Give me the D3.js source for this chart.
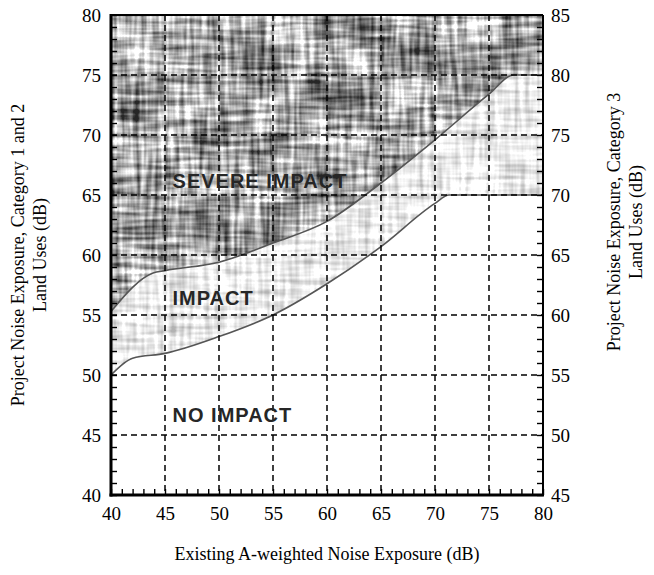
<!DOCTYPE html>
<html>
<head>
<meta charset="utf-8">
<script src="https://cdn.jsdelivr.net/npm/d3@7"></script>
<style>
body{margin:0;background:#fff}
text{font-family:"Liberation Serif","Times New Roman",serif}
</style>
</head>
<body>
<svg width="654" height="575"></svg>
<script>
// axis ticks
var xTicks = [40,45,50,55,60,65,70,75,80];
var yLeftTicks = [40,45,50,55,60,65,70,75,80];
var yRightTicks = [45,50,55,60,65,70,75,80,85];
var gridVals = [45,50,55,60,65,70,75];

// boundary curves (existing dB -> project dB, category 1 and 2)
var severeX = [40,43.9,45,50,55,60,65,70,75,77.3,80];
var severeY = [55.3,58.5,58.7,59.4,61,62.8,66,69.6,73.4,75,75];
var impactX = [40,42,45,50,55,60,65,70,71.3,80];
var impactY = [50,51.4,51.8,53.2,55,57.6,60.7,64.3,65,65];

// zone labels, anchored in data units
var zoneNames = ["SEVERE IMPACT","IMPACT","NO IMPACT"];
var zoneAtX = [45.7,45.7,45.7];
var zoneAtY = [65.6,55.8,46.1];

var svg = d3.select("svg");
var pl = 111, pr = 543, pt = 15, pb = 495;

var x = d3.scaleLinear().domain([40,80]).range([pl,pr]);
var y = d3.scaleLinear().domain([40,80]).range([pb,pt]);
var yR = d3.scaleLinear().domain([45,85]).range([pb,pt]);

var severe = severeX.map(function(d,i){ return [d, severeY[i]]; });
var impact = impactX.map(function(d,i){ return [d, impactY[i]]; });

var defs = svg.append("defs");

// scanned plaid texture
function noiseFilter(id, slope, intercept, blob){
  var f = defs.append("filter").attr("id", id)
    .attr("x",0).attr("y",0).attr("width",1).attr("height",1)
    .attr("color-interpolation-filters","sRGB");
  var gray = "1 0 0 0 0  1 0 0 0 0  1 0 0 0 0  0 0 0 0 1";
  f.append("feTurbulence").attr("type","fractalNoise").attr("baseFrequency","0.2 0.02")
    .attr("numOctaves",2).attr("seed",3).attr("result","v0");
  f.append("feColorMatrix").attr("in","v0").attr("type","matrix").attr("values",gray).attr("result","v");
  f.append("feTurbulence").attr("type","fractalNoise").attr("baseFrequency","0.02 0.2")
    .attr("numOctaves",2).attr("seed",7).attr("result","h0");
  f.append("feColorMatrix").attr("in","h0").attr("type","matrix").attr("values",gray).attr("result","h");
  f.append("feTurbulence").attr("type","fractalNoise").attr("baseFrequency","0.025")
    .attr("numOctaves",1).attr("seed",11).attr("result","b0");
  f.append("feColorMatrix").attr("in","b0").attr("type","matrix").attr("values",gray).attr("result","b");
  f.append("feComposite").attr("in","v").attr("in2","h").attr("operator","arithmetic")
    .attr("k1",0).attr("k2",1).attr("k3",1).attr("k4",-0.5).attr("result","vh");
  f.append("feComposite").attr("in","vh").attr("in2","b").attr("operator","arithmetic")
    .attr("k1",0).attr("k2",1).attr("k3",blob).attr("k4",-blob/2).attr("result","all");
  var ct = f.append("feComponentTransfer").attr("in","all");
  ["feFuncR","feFuncG","feFuncB"].forEach(function(c){
    ct.append(c).attr("type","linear").attr("slope",slope).attr("intercept",intercept);
  });
}
noiseFilter("plaid", 1.0, 0.15, 0.9);
noiseFilter("light", 0.45, 0.7, 0.3);

var areaTop = d3.area().curve(d3.curveMonotoneX)
  .x(function(d){ return x(d[0]); }).y0(y(80)).y1(function(d){ return y(d[1]); });
var areaBot = d3.area().curve(d3.curveMonotoneX)
  .x(function(d){ return x(d[0]); }).y0(y(40)).y1(function(d){ return y(d[1]); });
var line = d3.line().curve(d3.curveMonotoneX)
  .x(function(d){ return x(d[0]); }).y(function(d){ return y(d[1]); });

defs.append("clipPath").attr("id","clipSevere").append("path").attr("d", areaTop(severe));
defs.append("clipPath").attr("id","clipImpact").append("path").attr("d", areaBot(severe));

// impact zone (light)
svg.append("rect").attr("x",pl).attr("y",pt).attr("width",pr-pl).attr("height",pb-pt)
  .attr("filter","url(#light)").attr("clip-path","url(#clipImpact)");
// severe zone (dark plaid)
svg.append("rect").attr("x",pl).attr("y",pt).attr("width",pr-pl).attr("height",pb-pt)
  .attr("filter","url(#plaid)").attr("clip-path","url(#clipSevere)");
// no impact zone
svg.append("path").attr("d", areaBot(impact)).attr("fill","#fff");

// boundary lines
svg.append("path").attr("d", line(severe)).attr("fill","none").attr("stroke","#555").attr("stroke-width",1.6);
svg.append("path").attr("d", line(impact)).attr("fill","none").attr("stroke","#555").attr("stroke-width",1.6);

// dashed grid
var grid = svg.append("g").attr("stroke","#000").attr("stroke-width",1.5).attr("stroke-dasharray","6,4");
grid.selectAll(".gx").data(gridVals).enter().append("line")
  .attr("x1",function(d){ return x(d); }).attr("x2",function(d){ return x(d); })
  .attr("y1",pt).attr("y2",pb);
grid.selectAll(".gy").data(gridVals).enter().append("line")
  .attr("y1",function(d){ return y(d); }).attr("y2",function(d){ return y(d); })
  .attr("x1",pl).attr("x2",pr);

// zone labels
svg.selectAll(".zone").data(zoneNames).enter().append("text")
  .attr("x",function(d,i){ return x(zoneAtX[i]); })
  .attr("y",function(d,i){ return y(zoneAtY[i]); })
  .style("font-family","'Liberation Sans',Arial,sans-serif")
  .style("font-weight","bold").style("font-size","20px").style("letter-spacing","1px")
  .attr("fill","#262626")
  .text(function(d){ return d; });

// inner minor ticks every 1 dB
var minor = d3.range(40,81);
svg.append("g").attr("transform","translate("+pl+",0)")
  .call(d3.axisLeft(y).tickValues(minor).tickSize(-6).tickFormat(""));
svg.append("g").attr("transform","translate(0,"+pb+")")
  .call(d3.axisBottom(x).tickValues(minor).tickSize(-6).tickFormat(""));
svg.append("g").attr("transform","translate("+pr+",0)")
  .call(d3.axisRight(yR).tickValues(d3.range(45,86)).tickSize(-6).tickFormat(""));
svg.selectAll(".domain").remove();
svg.selectAll(".tick line").attr("stroke","#000").attr("stroke-width",1.4);

// tick labels
var lab = svg.append("g");
lab.append("g").attr("transform","translate("+pl+",0)")
  .call(d3.axisLeft(y).tickValues(yLeftTicks).tickSize(0).tickPadding(10).tickFormat(d3.format("d")));
lab.append("g").attr("transform","translate("+pr+",0)")
  .call(d3.axisRight(yR).tickValues(yRightTicks).tickSize(0).tickPadding(8).tickFormat(d3.format("d")));
lab.append("g").attr("transform","translate(0,"+pb+")")
  .call(d3.axisBottom(x).tickValues(xTicks).tickSize(0).tickPadding(12).tickFormat(d3.format("d")));
lab.selectAll(".domain").remove();
lab.selectAll("text").style("font-family","'Liberation Serif','Times New Roman',serif")
  .style("font-size","19px").attr("fill","#000");

// frame
svg.append("line").attr("x1",pl).attr("x2",pr).attr("y1",pt).attr("y2",pt).attr("stroke","#000").attr("stroke-width",2);
svg.append("line").attr("x1",pr).attr("x2",pr).attr("y1",pt).attr("y2",pb).attr("stroke","#000").attr("stroke-width",2);
svg.append("line").attr("x1",pl).attr("x2",pl).attr("y1",pt-1).attr("y2",pb+1.5).attr("stroke","#000").attr("stroke-width",3);
svg.append("line").attr("x1",pl-1.5).attr("x2",pr+1).attr("y1",pb).attr("y2",pb).attr("stroke","#000").attr("stroke-width",3);

// axis titles
svg.append("text").attr("x",(pl+pr)/2).attr("y",560).attr("text-anchor","middle")
  .style("font-size","18px").text("Existing A-weighted Noise Exposure (dB)");
var lt = svg.append("text").attr("transform","translate(24,255) rotate(-90)").attr("text-anchor","middle").style("font-size","18px");
lt.append("tspan").attr("x",0).attr("dy",0).text("Project Noise Exposure, Category 1 and 2");
lt.append("tspan").attr("x",0).attr("dy",22).text("Land Uses (dB)");
var rt = svg.append("text").attr("transform","translate(620,222) rotate(-90)").attr("text-anchor","middle").style("font-size","18px");
rt.append("tspan").attr("x",0).attr("dy",0).text("Project Noise Exposure, Category 3");
rt.append("tspan").attr("x",0).attr("dy",22).text("Land Uses (dB)");
</script>
</body>
</html>
